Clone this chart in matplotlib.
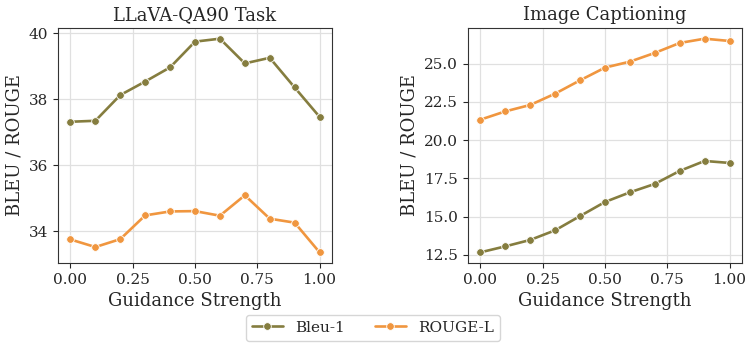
import matplotlib
matplotlib.use('Agg')
import matplotlib.pyplot as plt
import seaborn as sns

guidance = [0.0, 0.1, 0.2, 0.3, 0.4, 0.5, 0.6, 0.7, 0.8, 0.9, 1.0]

# LLaVA-QA90
qa_bleu = [37.32, 37.35, 38.13, 38.54, 38.97, 39.75, 39.84, 39.09, 39.26, 38.36, 37.47]
qa_rouge = [33.75, 33.52, 33.76, 34.48, 34.60, 34.61, 34.47, 35.09, 34.38, 34.26, 33.36]

# Image Captioning
cap_bleu = [12.67, 13.06, 13.48, 14.11, 15.04, 15.96, 16.59, 17.14, 17.99, 18.64, 18.51]
cap_rouge = [21.34, 21.88, 22.30, 23.04, 23.91, 24.74, 25.13, 25.70, 26.35, 26.63, 26.48]

titles = ['LLaVA-QA90 Task', 'Image Captioning']

sns.set_style('ticks')
plt.rcParams['font.family'] = ['DejaVu Serif']

c_bleu = '#857d3f'
c_rouge = '#f0963f'

fig = plt.figure(figsize=(7.46, 3.45), dpi=100)
ax1 = fig.add_axes([58 / 746, 82 / 345, 274 / 746, 235 / 345])
ax2 = fig.add_axes([468 / 746, 82 / 345, 274 / 746, 235 / 345])

for ax, bleu, rouge, title in [(ax1, qa_bleu, qa_rouge, titles[0]),
                               (ax2, cap_bleu, cap_rouge, titles[1])]:
    ax.plot(guidance, bleu, color=c_bleu, marker='o', markersize=5.5, linewidth=1.9,
            markeredgecolor='white', markeredgewidth=0.6, label='Bleu-1')
    ax.plot(guidance, rouge, color=c_rouge, marker='o', markersize=5.5, linewidth=1.9,
            markeredgecolor='white', markeredgewidth=0.6, label='ROUGE-L')
    ax.set_title(title, fontsize=13, color='#262626')
    ax.set_xlabel('Guidance Strength', fontsize=13, color='#262626')
    ax.set_ylabel('BLEU / ROUGE', fontsize=13, color='#262626')
    ax.set_xticks([0.0, 0.25, 0.5, 0.75, 1.0])
    ax.tick_params(labelsize=11, labelcolor='#262626')
    ax.grid(True, color='#e0e0e0', linewidth=0.9)
    for s in ax.spines.values():
        s.set_color('#333333')

ax1.set_yticks([34, 36, 38, 40])
ax2.set_yticks([12.5, 15.0, 17.5, 20.0, 22.5, 25.0])

handles, labels = ax1.get_legend_handles_labels()
fig.legend(handles, labels, loc='lower center', ncol=2, fontsize=11,
           bbox_to_anchor=(0.5, -0.01), frameon=True)

fig.savefig('out.png', dpi=100)
